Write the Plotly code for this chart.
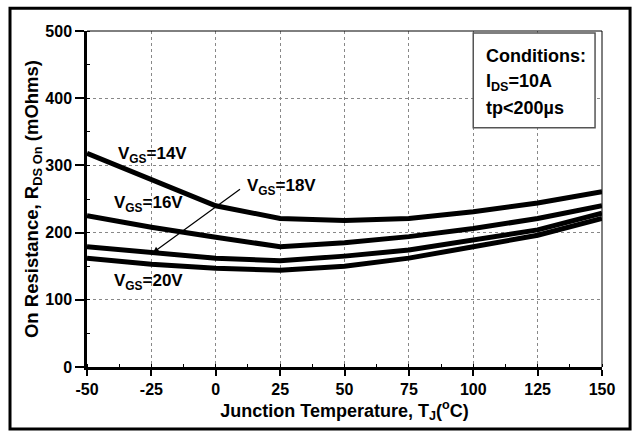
import plotly.graph_objects as go

# Data
temps = [-50, -25, 0, 25, 50, 75, 100, 125, 150]
r_vgs14 = [318, 279, 240, 221, 218, 221, 231, 244, 261]
r_vgs16 = [225, 208, 193, 179, 185, 194, 206, 221, 240]
r_vgs18 = [179, 170, 162, 158, 165, 174, 189, 204, 229]
r_vgs20 = [162, 153, 147, 144, 150, 162, 179, 196, 221]

x_ticks = [-50, -25, 0, 25, 50, 75, 100, 125, 150]
x_ticktext = ["-50", "-25", "0", "25", "50", "75", "100", "125", "150"]
y_ticks = [0, 100, 200, 300, 400, 500]
y_ticktext = ["0", "100", "200", "300", "400", "500"]

conditions = ["Conditions:", "I<sub>DS</sub>=10A", "tp&lt;200µs"]

FONT = "Liberation Sans, Arial, sans-serif"

fig = go.Figure()
for ys in [r_vgs14, r_vgs16, r_vgs18, r_vgs20]:
    fig.add_trace(go.Scatter(x=temps, y=ys, mode="lines",
                             line=dict(color="black", width=5),
                             showlegend=False, hoverinfo="skip"))

axis_common = dict(
    showline=True, linecolor="black", linewidth=2.5,
    ticks="outside", tickcolor="black", tickwidth=2,
    showgrid=True, gridcolor="#888", griddash="dot", gridwidth=1,
    zeroline=False,
    tickfont=dict(family=FONT, size=16, color="black", weight="bold"),
    minor=dict(ticks="inside", ticklen=3, tickcolor="black", tickwidth=1, showgrid=False),
)

fig.update_xaxes(range=[-50, 150], tickvals=x_ticks, ticktext=x_ticktext, ticklen=6,
                 title=dict(text="Junction Temperature, T<sub>J</sub>(<sup>o</sup>C)",
                            font=dict(family=FONT, size=18, color="black", weight="bold"),
                            standoff=4),
                 **axis_common)
fig.update_xaxes(minor_dtick=12.5)
fig.update_yaxes(range=[0, 500], tickvals=y_ticks, ticktext=y_ticktext, ticklen=9,
                 title=dict(text="On Resistance, R<sub>DS On</sub> (mOhms)",
                            font=dict(family=FONT, size=18.5, color="black", weight="bold"),
                            standoff=2),
                 **axis_common)
fig.update_yaxes(minor_dtick=50)

ann_font = dict(family=FONT, size=17, color="black", weight="bold")
labels = [
    ("V<sub>GS</sub>=14V", -24.4, 316),
    ("V<sub>GS</sub>=16V", -26, 242),
    ("V<sub>GS</sub>=18V", 25.7, 268),
    ("V<sub>GS</sub>=20V", -26, 127),
]
for txt, xx, yy in labels:
    fig.add_annotation(x=xx, y=yy, text=txt, showarrow=False, font=ann_font,
                       xanchor="center", yanchor="middle")

# arrow to VGS=18V curve
fig.add_annotation(x=-24.4, y=170, ax=10, ay=266, xref="x", yref="y",
                   axref="x", ayref="y", text="", showarrow=True,
                   arrowhead=2, arrowsize=1, arrowwidth=1.2, arrowcolor="black")

# Conditions box
fig.add_shape(type="rect", x0=100, x1=147.3, y0=356, y1=497, xref="x", yref="y",
              line=dict(color="#555", width=1.5), fillcolor="white", layer="above")
for txt, yy in zip(conditions, [463, 423, 385]):
    fig.add_annotation(x=104, y=yy, xref="x", yref="y", xanchor="left", yanchor="middle",
                       align="left", showarrow=False,
                       font=dict(family=FONT, size=18, color="black", weight="bold"),
                       text=txt)

# thin top/right spines
fig.add_shape(type="line", xref="paper", yref="paper", x0=0, x1=1, y0=1, y1=1,
              line=dict(color="black", width=1))
fig.add_shape(type="line", xref="paper", yref="paper", x0=1, x1=1, y0=0, y1=1,
              line=dict(color="black", width=1))

# outer frame
fig.add_shape(type="rect", xref="paper", yref="paper",
              x0=-0.1495, x1=1.0545, y0=-0.1845, y1=1.068,
              line=dict(color="black", width=3))

fig.update_layout(
    width=635, height=431,
    margin=dict(l=87, r=33, t=31, b=64, autoexpand=False),
    paper_bgcolor="white", plot_bgcolor="white",
    showlegend=False,
)

fig.write_html("out.html", config={"displayModeBar": False},
               post_script="document.body.style.margin='0';document.body.style.overflow='hidden';")
